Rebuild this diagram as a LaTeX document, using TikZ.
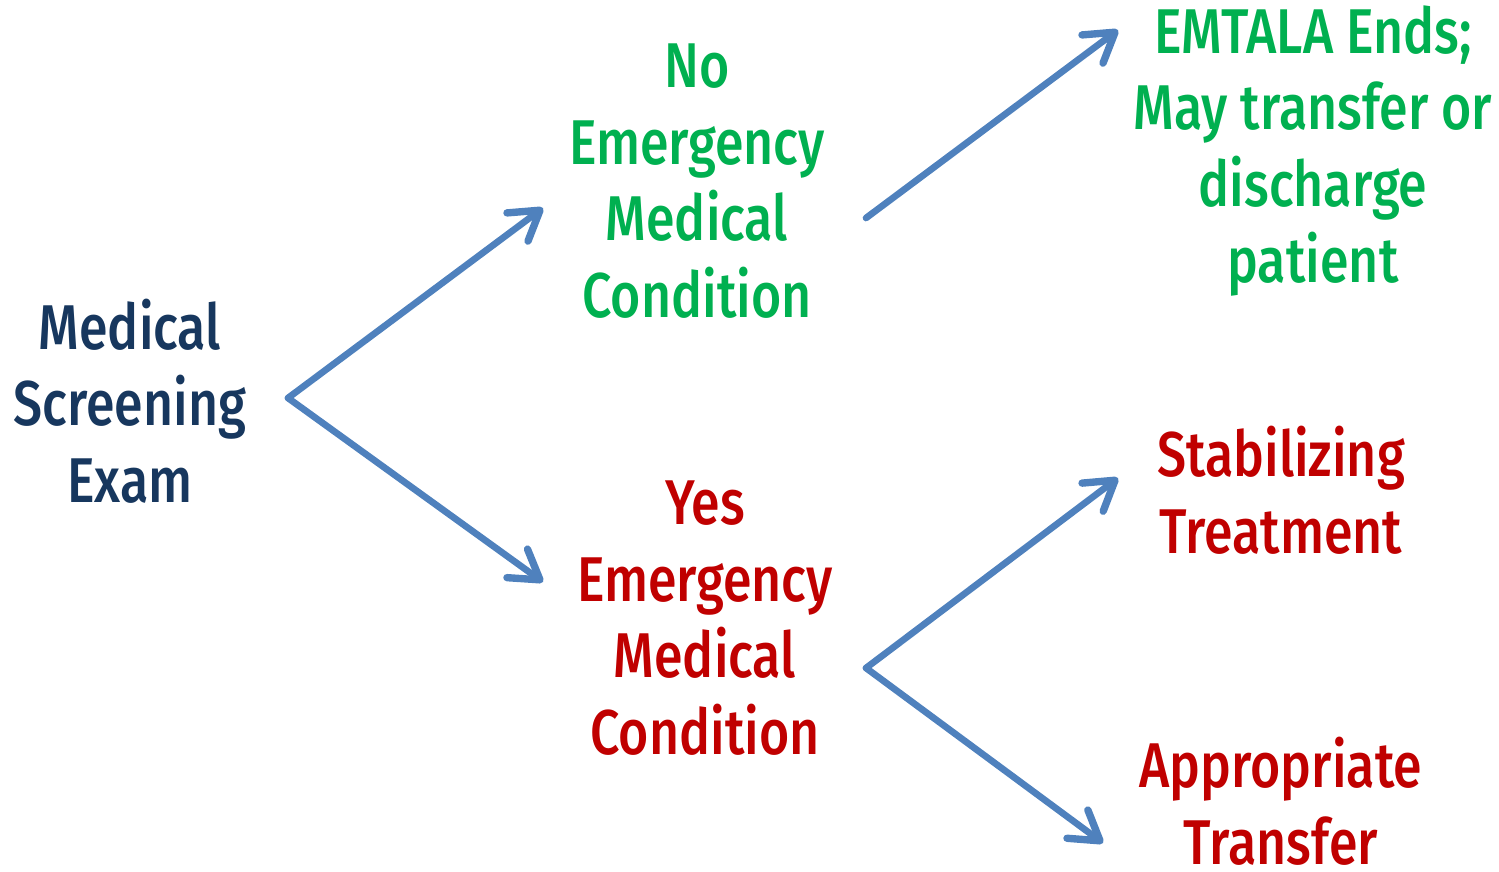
\documentclass[tikz,border=0pt]{standalone}
\usepackage{fontspec}
\setmainfont{Fira Sans Medium}[FakeStretch=0.82]
\usetikzlibrary{arrows.meta}
\definecolor{navytext}{HTML}{17375E}
\definecolor{greentext}{HTML}{00B050}
\definecolor{redtext}{HTML}{C00000}
\definecolor{arrowblue}{HTML}{4F81BD}
\tikzset{
	label text/.style={align=center, inner sep=0pt, font=\fontsize{18}{21.8}\selectfont},
	branch/.style={line width=1.9pt, color=arrowblue, line cap=round, line join=round,
		-{Straight Barb[length=8pt, width=10pt, line width=2.1pt, line cap=round, line join=round]}}
}

\begin{document}
\begin{tikzpicture}
		%%%%% START %%%%%
		
		\useasboundingbox (0, 0) rectangle (14.99, 8.71);
		
		\node[label text, color=navytext] (mse) at (1.30, 4.70) {Medical\\Screening\\Exam};
		\node[label text, color=greentext] (noemc) at (6.97, 6.90) {No\\Emergency\\Medical\\Condition};
		\node[label text, color=redtext] (yesemc) at (7.05, 2.53) {Yes\\Emergency\\Medical\\Condition};
		
		\node[label text, color=greentext] (ends) at (13.13, 7.20) {EMTALA Ends;\\May transfer or\\discharge\\patient};
		\node[label text, color=redtext] (stab) at (12.81, 3.81) {Stabilizing\\Treatment};
		\node[label text, color=redtext] (transfer) at (12.81, 0.70) {Appropriate\\Transfer};
		
		\coordinate (mse out) at (2.88, 4.73);
		\coordinate (noemc in) at (5.43, 6.63);
		\coordinate (yesemc in) at (5.43, 2.89);
		\coordinate (noemc out) at (8.66, 6.53);
		\coordinate (ends in) at (11.18, 8.41);
		\coordinate (yesemc out) at (8.66, 2.03);
		\coordinate (stab in) at (11.18, 3.93);
		\coordinate (transfer in) at (11.03, 0.28);
		
		\draw[branch] (mse out) -- (noemc in);
		\draw[branch] (mse out) -- (yesemc in);
		\draw[branch] (noemc out) -- (ends in);
		\draw[branch] (yesemc out) -- (stab in);
		\draw[branch] (yesemc out) -- (transfer in);
		
		%%%%% END %%%%%
	\end{tikzpicture}
\end{document}
